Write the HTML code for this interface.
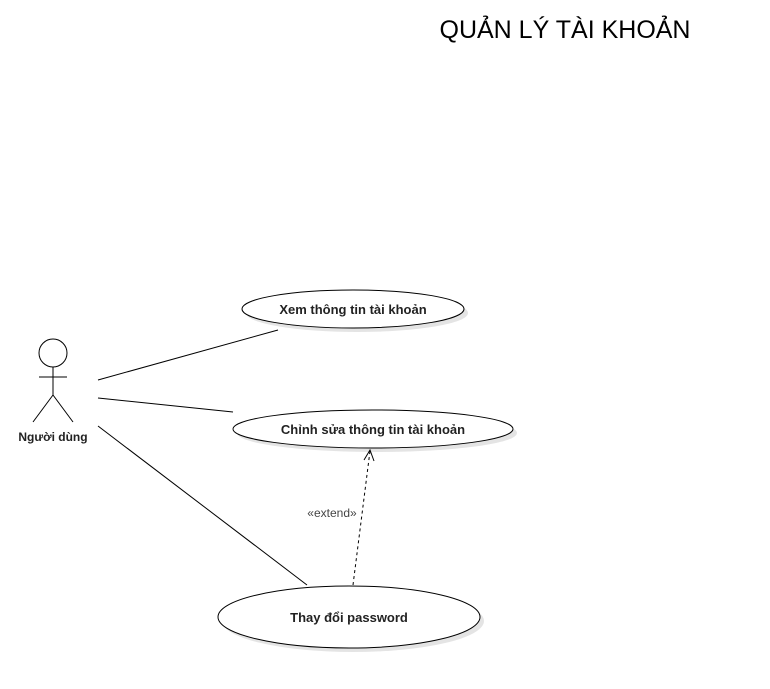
<!DOCTYPE html>
<html><head><meta charset="utf-8"><style>body{margin:0;background:#fff}svg{display:block}</style></head>
<body>
<svg width="770" height="689" xmlns="http://www.w3.org/2000/svg" font-family="Liberation Sans, DejaVu Sans, sans-serif">
<rect width="770" height="689" fill="#fff"/>
<text x="565" y="38" font-size="25" text-anchor="middle" fill="#000">QUẢN LÝ TÀI KHOẢN</text>
<g fill="#ddd" opacity="0.8">
<ellipse cx="357" cy="313" rx="111" ry="19"/>
<ellipse cx="377" cy="433" rx="140" ry="19"/>
<ellipse cx="353" cy="621" rx="131" ry="31"/>
</g>
<g fill="#fff" stroke="#000" stroke-width="1">
<ellipse cx="353" cy="309" rx="111" ry="19"/>
<ellipse cx="373" cy="429" rx="140" ry="19"/>
<ellipse cx="349" cy="617" rx="131" ry="31"/>
</g>
<g font-size="13" font-weight="bold" text-anchor="middle" fill="#222">
<text x="353" y="314">Xem thông tin tài khoản</text>
<text x="373" y="434">Chỉnh sửa thông tin tài khoản</text>
<text x="349" y="622">Thay đổi password</text>
<text x="53" y="441" font-size="12">Người dùng</text>
</g>
<g stroke="#000" stroke-width="1" fill="none">
<circle cx="53" cy="353" r="14" fill="#fff"/>
<line x1="53" y1="367" x2="53" y2="395"/>
<line x1="39" y1="377" x2="67" y2="377"/>
<line x1="53" y1="395" x2="33" y2="422"/>
<line x1="53" y1="395" x2="73" y2="422"/>
<line x1="98" y1="380" x2="278" y2="330"/>
<line x1="98" y1="398" x2="233" y2="412"/>
<line x1="98" y1="426" x2="307" y2="585"/>
<line x1="353" y1="585" x2="370" y2="451" stroke-dasharray="3,3"/>
<polyline points="364,460 370,450 374,461"/>
</g>
<text x="332" y="517" font-size="12" text-anchor="middle" fill="#444">«extend»</text>
</svg>
</body></html>
